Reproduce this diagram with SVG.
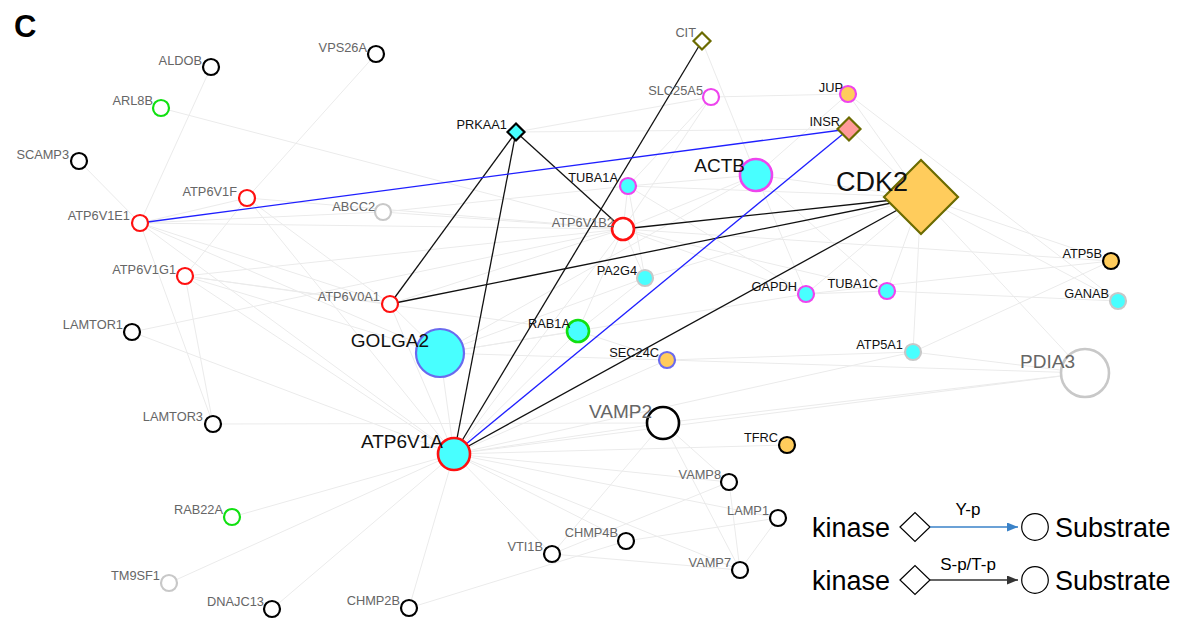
<svg xmlns="http://www.w3.org/2000/svg" width="1194" height="619" viewBox="0 0 1194 619">
<style>
text{font-family:"Liberation Sans",Arial,sans-serif}
.e{stroke:#ebebeb;stroke-width:1;fill:none}
.k{stroke:#111;stroke-width:1.3;fill:none}
.y{stroke:#1f1fff;stroke-width:1.3;fill:none}
.s{stroke-width:2.2}
.b{stroke-width:2.6}
.fw{fill:#fff}.fc{fill:#48ffff}.fo{fill:#ffcc5c}.fs{fill:#ff9a9a}
.sk{stroke:#000}.sr{stroke:#ff1010}.sg{stroke:#11e011}.sl{stroke:#c8c8c8}.sm{stroke:#ee44ee}.sb{stroke:#6a6aee}.so{stroke:#6b6b00}
.lg{fill:#666;font-size:12.8px;text-anchor:end}
.lb{fill:#111;font-size:12.8px;text-anchor:end}
.Lg{fill:#666;font-size:19px;text-anchor:end}
.Lb{fill:#111;font-size:19px;text-anchor:end}
.leg{fill:#000;font-size:27px}
.lab{fill:#000;font-size:17px;text-anchor:middle}
</style>
<defs>
<marker id="arrB" viewBox="0 0 11 9" refX="11" refY="4.5" markerWidth="11" markerHeight="9" markerUnits="userSpaceOnUse" orient="auto"><path d="M0,0 L11,4.5 L0,9 z" fill="#3a82c8"/></marker>
<marker id="arrK" viewBox="0 0 11 9" refX="11" refY="4.5" markerWidth="11" markerHeight="9" markerUnits="userSpaceOnUse" orient="auto"><path d="M0,0 L11,4.5 L0,9 z" fill="#333"/></marker>
</defs>
<rect width="1194" height="619" fill="#fff"/>
<text x="14" y="37" style="font-size:31px;font-weight:bold;fill:#000">C</text>
<g id="connectors">
<g id="faint-edges">
<line class="e" x1="211" y1="67" x2="140" y2="223"/>
<line class="e" x1="376" y1="54" x2="247" y2="198"/>
<line class="e" x1="161" y1="108" x2="623" y2="229"/>
<line class="e" x1="79" y1="161" x2="140" y2="223"/>
<line class="e" x1="140" y1="223" x2="247" y2="198"/>
<line class="e" x1="140" y1="223" x2="623" y2="229"/>
<line class="e" x1="140" y1="223" x2="390" y2="304"/>
<line class="e" x1="140" y1="223" x2="454" y2="454"/>
<line class="e" x1="140" y1="223" x2="440" y2="353"/>
<line class="e" x1="140" y1="223" x2="213" y2="424"/>
<line class="e" x1="140" y1="223" x2="383" y2="212"/>
<line class="e" x1="247" y1="198" x2="185" y2="276"/>
<line class="e" x1="247" y1="198" x2="623" y2="229"/>
<line class="e" x1="247" y1="198" x2="454" y2="454"/>
<line class="e" x1="247" y1="198" x2="390" y2="304"/>
<line class="e" x1="185" y1="276" x2="623" y2="229"/>
<line class="e" x1="185" y1="276" x2="390" y2="304"/>
<line class="e" x1="185" y1="276" x2="454" y2="454"/>
<line class="e" x1="185" y1="276" x2="440" y2="353"/>
<line class="e" x1="185" y1="276" x2="213" y2="424"/>
<line class="e" x1="185" y1="276" x2="578" y2="331"/>
<line class="e" x1="383" y1="212" x2="623" y2="229"/>
<line class="e" x1="383" y1="212" x2="628" y2="186"/>
<line class="e" x1="132" y1="332" x2="623" y2="229"/>
<line class="e" x1="132" y1="332" x2="454" y2="454"/>
<line class="e" x1="213" y1="424" x2="663" y2="423"/>
<line class="e" x1="390" y1="304" x2="623" y2="229"/>
<line class="e" x1="390" y1="304" x2="454" y2="454"/>
<line class="e" x1="390" y1="304" x2="440" y2="353"/>
<line class="e" x1="623" y1="229" x2="628" y2="186"/>
<line class="e" x1="623" y1="229" x2="756" y2="175"/>
<line class="e" x1="623" y1="229" x2="645" y2="278"/>
<line class="e" x1="623" y1="229" x2="454" y2="454"/>
<line class="e" x1="623" y1="229" x2="806" y2="294"/>
<line class="e" x1="623" y1="229" x2="711" y2="97"/>
<line class="e" x1="623" y1="229" x2="1111" y2="261"/>
<line class="e" x1="623" y1="229" x2="887" y2="291"/>
<line class="e" x1="623" y1="229" x2="578" y2="331"/>
<line class="e" x1="454" y1="454" x2="232" y2="517"/>
<line class="e" x1="454" y1="454" x2="169" y2="583"/>
<line class="e" x1="454" y1="454" x2="272" y2="609"/>
<line class="e" x1="454" y1="454" x2="409" y2="608"/>
<line class="e" x1="454" y1="454" x2="552" y2="554"/>
<line class="e" x1="454" y1="454" x2="626" y2="541"/>
<line class="e" x1="454" y1="454" x2="740" y2="570"/>
<line class="e" x1="454" y1="454" x2="778" y2="518"/>
<line class="e" x1="454" y1="454" x2="729" y2="482"/>
<line class="e" x1="454" y1="454" x2="787" y2="445"/>
<line class="e" x1="454" y1="454" x2="663" y2="423"/>
<line class="e" x1="454" y1="454" x2="1085" y2="373"/>
<line class="e" x1="454" y1="454" x2="440" y2="353"/>
<line class="e" x1="454" y1="454" x2="578" y2="331"/>
<line class="e" x1="454" y1="454" x2="667" y2="360"/>
<line class="e" x1="454" y1="454" x2="913" y2="352"/>
<line class="e" x1="440" y1="353" x2="578" y2="331"/>
<line class="e" x1="440" y1="353" x2="667" y2="360"/>
<line class="e" x1="440" y1="353" x2="645" y2="278"/>
<line class="e" x1="440" y1="353" x2="806" y2="294"/>
<line class="e" x1="440" y1="353" x2="756" y2="175"/>
<line class="e" x1="663" y1="423" x2="552" y2="554"/>
<line class="e" x1="663" y1="423" x2="729" y2="482"/>
<line class="e" x1="663" y1="423" x2="740" y2="570"/>
<line class="e" x1="663" y1="423" x2="1085" y2="373"/>
<line class="e" x1="552" y1="554" x2="740" y2="570"/>
<line class="e" x1="552" y1="554" x2="729" y2="482"/>
<line class="e" x1="409" y1="608" x2="626" y2="541"/>
<line class="e" x1="626" y1="541" x2="778" y2="518"/>
<line class="e" x1="729" y1="482" x2="740" y2="570"/>
<line class="e" x1="778" y1="518" x2="740" y2="570"/>
<line class="e" x1="921" y1="197" x2="848" y2="94"/>
<line class="e" x1="921" y1="197" x2="849" y2="129"/>
<line class="e" x1="921" y1="197" x2="756" y2="175"/>
<line class="e" x1="921" y1="197" x2="628" y2="186"/>
<line class="e" x1="921" y1="197" x2="806" y2="294"/>
<line class="e" x1="921" y1="197" x2="887" y2="291"/>
<line class="e" x1="921" y1="197" x2="913" y2="352"/>
<line class="e" x1="921" y1="197" x2="1111" y2="261"/>
<line class="e" x1="921" y1="197" x2="1118" y2="301"/>
<line class="e" x1="921" y1="197" x2="1085" y2="373"/>
<line class="e" x1="921" y1="197" x2="645" y2="278"/>
<line class="e" x1="756" y1="175" x2="848" y2="94"/>
<line class="e" x1="756" y1="175" x2="628" y2="186"/>
<line class="e" x1="756" y1="175" x2="887" y2="291"/>
<line class="e" x1="756" y1="175" x2="806" y2="294"/>
<line class="e" x1="702" y1="41" x2="756" y2="175"/>
<line class="e" x1="711" y1="97" x2="628" y2="186"/>
<line class="e" x1="516" y1="132" x2="711" y2="97"/>
<line class="e" x1="516" y1="132" x2="849" y2="129"/>
<line class="e" x1="848" y1="94" x2="1118" y2="301"/>
<line class="e" x1="848" y1="94" x2="711" y2="97"/>
<line class="e" x1="913" y1="352" x2="1111" y2="261"/>
<line class="e" x1="913" y1="352" x2="1085" y2="373"/>
<line class="e" x1="913" y1="352" x2="667" y2="360"/>
<line class="e" x1="1118" y1="301" x2="887" y2="291"/>
<line class="e" x1="806" y1="294" x2="887" y2="291"/>
<line class="e" x1="1085" y1="373" x2="667" y2="360"/>
<line class="e" x1="578" y1="331" x2="667" y2="360"/>
<line class="e" x1="578" y1="331" x2="645" y2="278"/>
<line class="e" x1="806" y1="294" x2="1111" y2="261"/>
<line class="e" x1="628" y1="186" x2="645" y2="278"/>
<line class="e" x1="628" y1="186" x2="806" y2="294"/>
</g>
<g id="sp-edges">
<line class="k" x1="516" y1="132" x2="390" y2="304"/>
<line class="k" x1="516" y1="132" x2="454" y2="454"/>
<line class="k" x1="516" y1="132" x2="623" y2="229"/>
<line class="k" x1="702" y1="41" x2="454" y2="454"/>
<line class="k" x1="921" y1="197" x2="623" y2="229"/>
<line class="k" x1="921" y1="197" x2="390" y2="304"/>
<line class="k" x1="921" y1="197" x2="454" y2="454"/>
</g>
<g id="yp-edges">
<line class="y" x1="849" y1="129" x2="140" y2="223"/>
<line class="y" x1="849" y1="129" x2="454" y2="454"/>
</g>
</g>
<g id="nodes">
<g id="n-ALDOB"><circle class="s fw sk" cx="211" cy="67" r="8"/><text class="lg" x="202" y="65">ALDOB</text></g>
<g id="n-VPS26A"><circle class="s fw sk" cx="376" cy="54" r="8"/><text class="lg" x="367" y="52">VPS26A</text></g>
<g id="n-ARL8B"><circle class="s fw sg" cx="161" cy="108" r="8"/><text class="lg" x="153" y="105">ARL8B</text></g>
<g id="n-SCAMP3"><circle class="s fw sk" cx="79" cy="161" r="8"/><text class="lg" x="69" y="159">SCAMP3</text></g>
<g id="n-ATP6V1F"><circle class="s fw sr" cx="247" cy="198" r="8"/><text class="lg" x="237" y="196">ATP6V1F</text></g>
<g id="n-ATP6V1E1"><circle class="s fw sr" cx="140" cy="223" r="8"/><text class="lg" x="130" y="220">ATP6V1E1</text></g>
<g id="n-ABCC2"><circle class="s fw sl" cx="383" cy="212" r="8"/><text class="lg" x="375" y="211">ABCC2</text></g>
<g id="n-ATP6V1G1"><circle class="s fw sr" cx="185" cy="276" r="8"/><text class="lg" x="176" y="274">ATP6V1G1</text></g>
<g id="n-LAMTOR1"><circle class="s fw sk" cx="132" cy="332" r="8"/><text class="lg" x="123" y="329">LAMTOR1</text></g>
<g id="n-ATP6V0A1"><circle class="s fw sr" cx="390" cy="304" r="8"/><text class="lg" x="380" y="301">ATP6V0A1</text></g>
<g id="n-LAMTOR3"><circle class="s fw sk" cx="213" cy="424" r="8"/><text class="lg" x="203" y="421">LAMTOR3</text></g>
<g id="n-RAB22A"><circle class="s fw sg" cx="232" cy="517" r="8"/><text class="lg" x="223" y="514">RAB22A</text></g>
<g id="n-TM9SF1"><circle class="s fw sl" cx="169" cy="583" r="8"/><text class="lg" x="160" y="580">TM9SF1</text></g>
<g id="n-DNAJC13"><circle class="s fw sk" cx="272" cy="609" r="8"/><text class="lg" x="264" y="606">DNAJC13</text></g>
<g id="n-CHMP2B"><circle class="s fw sk" cx="409" cy="608" r="8"/><text class="lg" x="400" y="605">CHMP2B</text></g>
<g id="n-VTI1B"><circle class="s fw sk" cx="552" cy="554" r="8"/><text class="lg" x="543" y="551">VTI1B</text></g>
<g id="n-CHMP4B"><circle class="s fw sk" cx="626" cy="541" r="8"/><text class="lg" x="618" y="537">CHMP4B</text></g>
<g id="n-VAMP7"><circle class="s fw sk" cx="740" cy="570" r="8"/><text class="lg" x="731" y="567">VAMP7</text></g>
<g id="n-LAMP1"><circle class="s fw sk" cx="778" cy="518" r="8"/><text class="lg" x="769" y="515">LAMP1</text></g>
<g id="n-VAMP8"><circle class="s fw sk" cx="729" cy="482" r="8"/><text class="lg" x="721" y="479">VAMP8</text></g>
<g id="n-TFRC"><circle class="s fo sk" cx="787" cy="445" r="8"/><text class="lb" x="778" y="442">TFRC</text></g>
<g id="n-VAMP2"><circle class="b fw sk" cx="663" cy="423" r="16"/><text class="Lg" x="652" y="418">VAMP2</text></g>
<g id="n-ATP6V1A"><circle class="b fc sr" cx="454" cy="454" r="16"/><text class="Lb" x="443" y="448">ATP6V1A</text></g>
<g id="n-GOLGA2"><circle class="s fc sb" cx="440" cy="353" r="24"/><text class="Lb" x="429" y="347">GOLGA2</text></g>
<g id="n-RAB1A"><circle class="b fc sg" cx="578" cy="331" r="11"/><text class="lb" x="570" y="328">RAB1A</text></g>
<g id="n-SEC24C"><circle class="s fo sb" cx="667" cy="360" r="8"/><text class="lb" x="659" y="357">SEC24C</text></g>
<g id="n-PA2G4"><circle class="s fc sl" cx="645" cy="278" r="8"/><text class="lb" x="637" y="275">PA2G4</text></g>
<g id="n-ATP6V1B2"><circle class="b fw sr" cx="623" cy="229" r="11"/><text class="lg" x="614" y="227">ATP6V1B2</text></g>
<g id="n-PRKAA1"><polygon class="s fc sk" points="507.5,132 516,123.5 524.5,132 516,140.5"/><text class="lb" x="507" y="129">PRKAA1</text></g>
<g id="n-CIT"><polygon class="s fw so" points="693.5,41 702,32.5 710.5,41 702,49.5"/><text class="lg" x="696" y="37">CIT</text></g>
<g id="n-SLC25A5"><circle class="s fw sm" cx="711" cy="97" r="8"/><text class="lg" x="703" y="95">SLC25A5</text></g>
<g id="n-TUBA1A"><circle class="s fc sm" cx="628" cy="186" r="8"/><text class="lb" x="618" y="182">TUBA1A</text></g>
<g id="n-ACTB"><circle class="b fc sm" cx="756" cy="175" r="16"/><text class="Lb" x="745" y="172">ACTB</text></g>
<g id="n-JUP"><circle class="s fo sm" cx="848" cy="94" r="8"/><text class="lb" x="843" y="92">JUP</text></g>
<g id="n-INSR"><polygon class="s fs so" points="837.5,129 849,117.5 860.5,129 849,140.5"/><text class="lb" x="840" y="126">INSR</text></g>
<g id="n-CDK2"><polygon class="s fo so" points="884,197 921,160 958,197 921,234"/><text x="908" y="191" style="font-size:27px;fill:#111;text-anchor:end">CDK2</text></g>
<g id="n-ATP5B"><circle class="s fo sk" cx="1111" cy="261" r="8"/><text class="lb" x="1102" y="258">ATP5B</text></g>
<g id="n-GANAB"><circle class="s fc sl" cx="1118" cy="301" r="8"/><text class="lb" x="1109" y="298">GANAB</text></g>
<g id="n-TUBA1C"><circle class="s fc sm" cx="887" cy="291" r="8"/><text class="lb" x="878" y="288">TUBA1C</text></g>
<g id="n-GAPDH"><circle class="s fc sm" cx="806" cy="294" r="8"/><text class="lb" x="797" y="291">GAPDH</text></g>
<g id="n-ATP5A1"><circle class="s fc sl" cx="913" cy="352" r="8"/><text class="lb" x="903" y="349">ATP5A1</text></g>
<g id="n-PDIA3"><circle class="b fw sl" cx="1085" cy="373" r="24"/><text class="Lg" x="1075" y="368">PDIA3</text></g>
</g>
<g id="legend">
<text class="leg" x="812" y="537">kinase</text>
<polygon points="900,527 915,512.5 930,527 915,541.5" fill="#fff" stroke="#000" stroke-width="1.2"/>
<line x1="930" y1="527" x2="1018" y2="527" stroke="#3a82c8" stroke-width="1.5" marker-end="url(#arrB)"/>
<text class="lab" x="968" y="515">Y-p</text>
<circle cx="1035" cy="527" r="13.3" fill="#fff" stroke="#000" stroke-width="1.2"/>
<text class="leg" x="1055" y="537">Substrate</text>
<text class="leg" x="812" y="590">kinase</text>
<polygon points="900,580 915,565.5 930,580 915,594.5" fill="#fff" stroke="#000" stroke-width="1.2"/>
<line x1="930" y1="580" x2="1018" y2="580" stroke="#333" stroke-width="1.5" marker-end="url(#arrK)"/>
<text class="lab" x="968" y="570">S-p/T-p</text>
<circle cx="1035" cy="580" r="13.3" fill="#fff" stroke="#000" stroke-width="1.2"/>
<text class="leg" x="1055" y="590">Substrate</text>
</g>
</svg>
